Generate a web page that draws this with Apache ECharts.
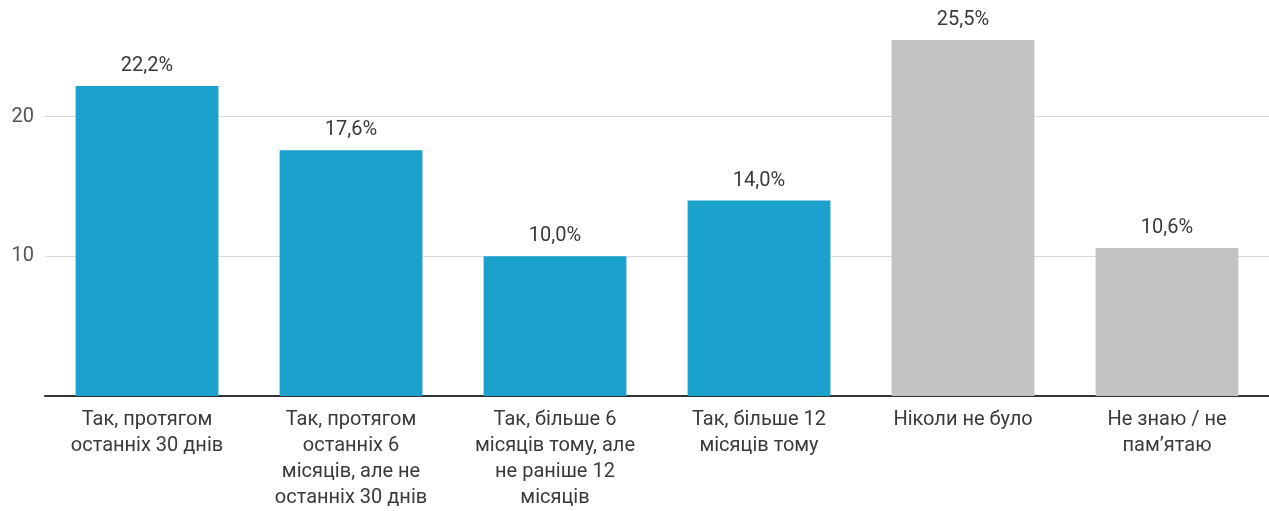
<!DOCTYPE html>
<html>
<head>
<meta charset="utf-8">
<script src="https://cdn.jsdelivr.net/npm/echarts@6/dist/echarts.min.js"></script>
<style>
  html, body { margin: 0; padding: 0; background: #fff; }
  #chart { width: 1269px; height: 511px; }
</style>
</head>
<body>
<div id="chart"></div>
<script>
var categories = [
  'Так, протягом\nостанніх 30 днів',
  'Так, протягом\nостанніх 6\nмісяців, але не\nостанніх 30 днів',
  'Так, більше 6\nмісяців тому, але\nне раніше 12\nмісяців',
  'Так, більше 12\nмісяців тому',
  'Ніколи не було',
  'Не знаю / не\nпам’ятаю'
];
var values = [22.2, 17.6, 10.0, 14.0, 25.5, 10.6];
var barColors = ['#1aa1cc', '#1aa1cc', '#1aa1cc', '#1aa1cc', '#c3c3c3', '#c3c3c3'];

var chart = echarts.init(document.getElementById('chart'));
chart.setOption({
  animation: false,
  textStyle: { fontFamily: 'Roboto' },
  grid: { left: 45, right: 0, top: 5, bottom: 110, containLabel: false },
  xAxis: {
    type: 'category',
    data: categories,
    axisTick: { show: false },
    axisLine: { lineStyle: { color: '#333', width: 2 } },
    axisLabel: {
      interval: 0,
      margin: 11,
      color: '#3a3a3a',
      fontSize: 20,
      lineHeight: 26
    }
  },
  yAxis: {
    type: 'value',
    min: 0,
    max: 28,
    interval: 10,
    axisLine: { show: false },
    axisTick: { show: false },
    // lines at 0, 10, 20, 28 - only 10 and 20 are visible
    splitLine: { lineStyle: { color: ['transparent', '#d9d9d9', '#d9d9d9', 'transparent'], width: 1 } },
    axisLabel: {
      color: '#555',
      fontSize: 20,
      margin: 11,
      formatter: function (v) { return (v === 0 || v % 10 !== 0) ? '' : v; }
    }
  },
  series: [{
    type: 'bar',
    barWidth: '70%',
    data: values.map(function (v, i) {
      return { value: v, itemStyle: { color: barColors[i] } };
    }),
    label: {
      show: true,
      position: 'top',
      distance: 10,
      color: '#3a3a3a',
      fontSize: 20,
      formatter: function (p) { return p.value.toFixed(1).replace('.', ',') + '%'; }
    }
  }]
});
</script>
</body>
</html>
